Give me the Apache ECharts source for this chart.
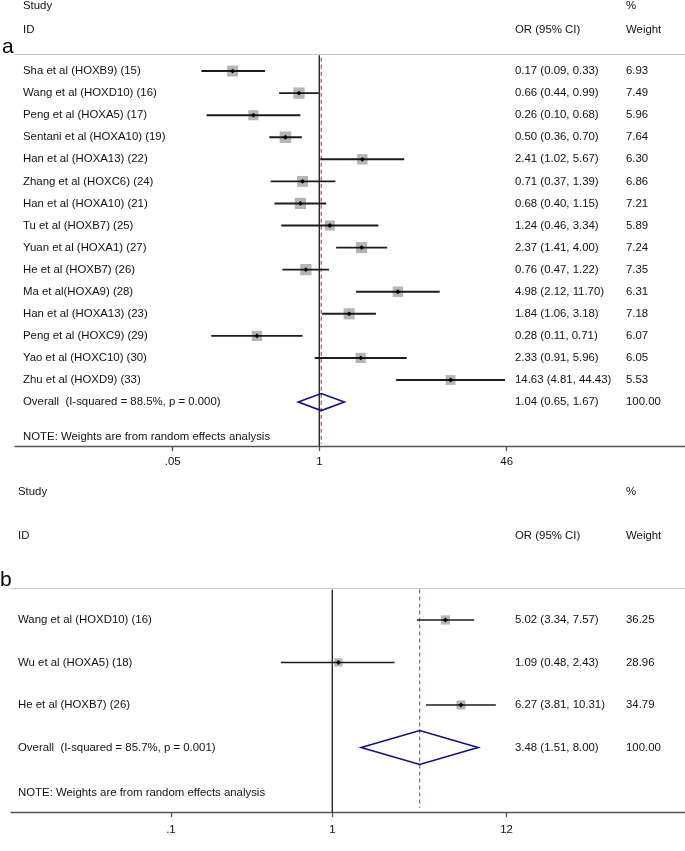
<!DOCTYPE html>
<html><head><meta charset="utf-8">
<script src="https://cdn.jsdelivr.net/npm/echarts@6/dist/echarts.min.js"></script>
<style>html,body{margin:0;padding:0;background:#fff}#c{width:685px;height:851px}</style>
</head><body><div id="c"></div>
<script>
// ---------- Panel a data ----------
const studiesA = [
  "Sha et al (HOXB9) (15)", "Wang et al (HOXD10) (16)", "Peng et al (HOXA5) (17)",
  "Sentani et al (HOXA10) (19)", "Han et al (HOXA13) (22)", "Zhang et al (HOXC6) (24)",
  "Han et al (HOXA10) (21)", "Tu et al (HOXB7) (25)", "Yuan et al (HOXA1) (27)",
  "He et al (HOXB7) (26)", "Ma et al(HOXA9) (28)", "Han et al (HOXA13) (23)",
  "Peng et al (HOXC9) (29)", "Yao et al (HOXC10) (30)", "Zhu et al (HOXD9) (33)"
];
const orA     = [0.17, 0.66, 0.26, 0.50, 2.41, 0.71, 0.68, 1.24, 2.37, 0.76, 4.98, 1.84, 0.28, 2.33, 14.63];
const lowA    = [0.09, 0.44, 0.10, 0.36, 1.02, 0.37, 0.40, 0.46, 1.41, 0.47, 2.12, 1.06, 0.11, 0.91, 4.81];
const highA   = [0.33, 0.99, 0.68, 0.70, 5.67, 1.39, 1.15, 3.34, 4.00, 1.22, 11.70, 3.18, 0.71, 5.96, 44.43];
const weightA = [6.93, 7.49, 5.96, 7.64, 6.30, 6.86, 7.21, 5.89, 7.24, 7.35, 6.31, 7.18, 6.07, 6.05, 5.53];
const overallLabelA = "Overall  (I-squared = 88.5%, p = 0.000)";
const overallA = [1.04, 0.65, 1.67];
const overallWeightA = 100.00;
const ticksA = [0.05, 1, 46];
const tickLabelsA = [".05", "1", "46"];

// ---------- Panel b data ----------
const studiesB = ["Wang et al (HOXD10) (16)", "Wu et al (HOXA5) (18)", "He et al (HOXB7) (26)"];
const orB     = [5.02, 1.09, 6.27];
const lowB    = [3.34, 0.48, 3.81];
const highB   = [7.57, 2.43, 10.31];
const weightB = [36.25, 28.96, 34.79];
const overallLabelB = "Overall  (I-squared = 85.7%, p = 0.001)";
const overallB = [3.48, 1.51, 8.00];
const overallWeightB = 100.00;
const ticksB = [0.1, 1, 12];
const tickLabelsB = [".1", "1", "12"];

const noteText = "NOTE: Weights are from random effects analysis";

// ---------- styling / layout ----------
const FAMILY = '"Liberation Sans", Arial, sans-serif';
const FONT = '11.4px ' + FAMILY;
const TXT = '#111';
const f2 = v => v.toFixed(2);

const A = {
  gridIndex: 0, left: 15, top: 54.5, height: 391.7, ymin: -0.75, ymax: 17,
  xmin: Math.pow(10, (15 - 319.3) / 112.7), xmax: Math.pow(10, (685 - 319.3) / 112.7),
  labelX: 23, orX: 515, wX: 626, boxMax: 11.5, lw: 1.9, diamondH: 8.5, noteRow: 16.58,
  lineTop: -0.72, dashTop: -0.6, labelMargin: 10
};
const B = {
  gridIndex: 1, left: 11, top: 588.1, height: 224, ymin: -0.75, ymax: 4.52,
  xmin: Math.pow(10, (11 - 332.3) / 161.4), xmax: Math.pow(10, (685 - 332.3) / 161.4),
  labelX: 18, orX: 515, wX: 626, boxMax: 9.2, lw: 1.5, diamondH: 17, noteRow: 4.07,
  lineTop: -0.72, dashTop: -0.72, labelMargin: 12
};

function textEl(x, y, t) {
  return { type: 'text', x: x, y: y, style: { text: t, font: FONT, fill: TXT, align: 'left', verticalAlign: 'middle' } };
}

function studySeries(cfg, names, ors, lows, highs, ws) {
  const wMax = Math.max.apply(null, ws);
  const data = names.map((n, i) => [i, ors[i], lows[i], highs[i], ws[i]]);
  return {
    type: 'custom', xAxisIndex: cfg.gridIndex * 2, yAxisIndex: cfg.gridIndex, clip: false, z: 5,
    data: data,
    renderItem: function (params, api) {
      const i = params.dataIndex;
      const row = api.value(0);
      const pOr = api.coord([api.value(1), row]);
      const pLo = api.coord([api.value(2), row]);
      const pHi = api.coord([api.value(3), row]);
      const side = cfg.boxMax * Math.sqrt(api.value(4) / wMax);
      const d = 2.4;
      return {
        type: 'group', children: [
          { type: 'rect', shape: { x: pOr[0] - side / 2, y: pOr[1] - side / 2, width: side, height: side }, style: { fill: '#b5b5b5' } },
          { type: 'line', shape: { x1: pLo[0], y1: pLo[1], x2: pHi[0], y2: pHi[1] }, style: { stroke: '#1c1c1c', lineWidth: cfg.lw } },
          { type: 'polygon', shape: { points: [[pOr[0], pOr[1] - d], [pOr[0] + d, pOr[1]], [pOr[0], pOr[1] + d], [pOr[0] - d, pOr[1]]] }, style: { fill: '#000' } },
          textEl(cfg.labelX, pOr[1], names[i]),
          textEl(cfg.orX, pOr[1], f2(ors[i]) + ' (' + f2(lows[i]) + ', ' + f2(highs[i]) + ')'),
          textEl(cfg.wX, pOr[1], f2(ws[i]))
        ]
      };
    }
  };
}

function overallSeries(cfg, row, label, ov, w) {
  return {
    type: 'custom', xAxisIndex: cfg.gridIndex * 2, yAxisIndex: cfg.gridIndex, clip: false, z: 6,
    data: [[row, ov[0], ov[1], ov[2]]],
    renderItem: function (params, api) {
      const r = api.value(0);
      const pE = api.coord([api.value(1), r]);
      const pL = api.coord([api.value(2), r]);
      const pH = api.coord([api.value(3), r]);
      const h = cfg.diamondH;
      const pN = api.coord([api.value(1), cfg.noteRow]);
      return {
        type: 'group', children: [
          { type: 'polygon', shape: { points: [[pL[0], pE[1]], [pE[0], pE[1] - h], [pH[0], pE[1]], [pE[0], pE[1] + h]] },
            style: { fill: 'rgba(0,0,0,0)', stroke: '#101080', lineWidth: 1.6 } },
          textEl(cfg.labelX, pE[1], label),
          textEl(cfg.orX, pE[1], f2(ov[0]) + ' (' + f2(ov[1]) + ', ' + f2(ov[2]) + ')'),
          textEl(cfg.wX, pE[1], f2(w)),
          textEl(cfg.labelX, pN[1], noteText)
        ]
      };
    }
  };
}

function refLines(cfg, ov) {
  return [
    { type: 'line', xAxisIndex: cfg.gridIndex * 2, yAxisIndex: cfg.gridIndex, symbol: 'none', silent: true, z: 2,
      data: [[1, cfg.lineTop], [1, cfg.ymax]], lineStyle: { color: '#2a2a2a', width: 1.4 } },
    { type: 'line', xAxisIndex: cfg.gridIndex * 2, yAxisIndex: cfg.gridIndex, symbol: 'none', silent: true, z: 3,
      data: [[ov, cfg.dashTop], [ov, cfg.ymax - 0.1]], lineStyle: { color: '#b2404a', width: 1.1, type: [4, 3] } }
  ];
}

function xAxes(cfg, ticks, labels) {
  return [
    { type: 'log', logBase: 10, gridIndex: cfg.gridIndex, position: 'bottom', min: cfg.xmin, max: cfg.xmax,
      splitLine: { show: false }, minorTick: { show: false },
      axisLine: { show: true, onZero: false, lineStyle: { color: '#555', width: 1.4 } },
      axisTick: { show: true, length: 5, lineStyle: { color: '#555', width: 1.3 }, customValues: ticks },
      axisLabel: { show: true, margin: cfg.labelMargin, customValues: ticks, fontSize: 11.4, color: TXT, fontFamily: FAMILY,
        formatter: v => { const k = ticks.findIndex(t => Math.abs(t - v) / t < 1e-6); return k >= 0 ? labels[k] : ''; } } },
    { type: 'log', logBase: 10, gridIndex: cfg.gridIndex, position: 'top', min: cfg.xmin, max: cfg.xmax,
      splitLine: { show: false }, axisTick: { show: false }, axisLabel: { show: false }, minorTick: { show: false },
      axisLine: { show: true, onZero: false, lineStyle: { color: '#c6c6c6', width: 1 } } }
  ];
}

function headerTexts(x, yStudy, yID, orX, wX) {
  const mk = (tx, ty, t) => ({ type: 'text', x: tx, y: ty, style: { text: t, font: FONT, fill: TXT, align: 'left', verticalAlign: 'middle' } });
  return [mk(x, yStudy, 'Study'), mk(x, yID, 'ID'), mk(orX, yID, 'OR (95% CI)'), mk(wX, yStudy, '%'), mk(wX, yID, 'Weight')];
}

const chart = echarts.init(document.getElementById('c'), null, { renderer: 'canvas' });
chart.setOption({
  animation: false,
  backgroundColor: '#fff',
  grid: [
    { left: A.left, right: 0, top: A.top, height: A.height, outerBoundsMode: 'none', containLabel: false },
    { left: B.left, right: 0, top: B.top, height: B.height, outerBoundsMode: 'none', containLabel: false }
  ],
  xAxis: [].concat(xAxes(A, ticksA, tickLabelsA), xAxes(B, ticksB, tickLabelsB)),
  yAxis: [
    { type: 'value', gridIndex: 0, inverse: true, min: A.ymin, max: A.ymax, show: false },
    { type: 'value', gridIndex: 1, inverse: true, min: B.ymin, max: B.ymax, show: false }
  ],
  graphic: [].concat(
    headerTexts(23, 6, 30, 515, 626),
    headerTexts(18, 492, 536, 515, 626),
    [
      { type: 'text', x: 2, y: 47, style: { text: 'a', font: '21px ' + FAMILY, fill: '#000', verticalAlign: 'middle' } },
      { type: 'text', x: 0, y: 580, style: { text: 'b', font: '21px ' + FAMILY, fill: '#000', verticalAlign: 'middle' } }
    ]
  ),
  series: [].concat(
    refLines(A, overallA[0]),
    [studySeries(A, studiesA, orA, lowA, highA, weightA), overallSeries(A, studiesA.length, overallLabelA, overallA, overallWeightA)],
    refLines(B, overallB[0]),
    [studySeries(B, studiesB, orB, lowB, highB, weightB), overallSeries(B, studiesB.length, overallLabelB, overallB, overallWeightB)]
  )
});
</script></body></html>
